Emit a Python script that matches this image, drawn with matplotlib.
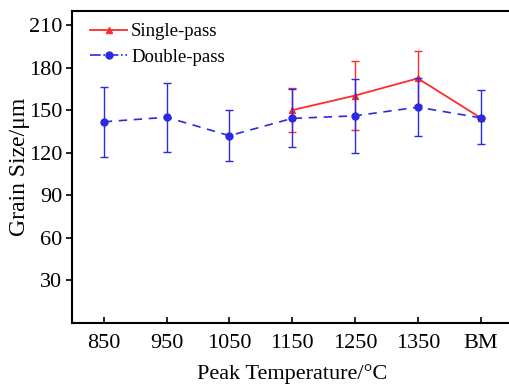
import numpy as np
import matplotlib.pyplot as plt
from matplotlib.lines import Line2D

plt.rcParams['font.family'] = ['Liberation Serif', 'DejaVu Serif']

# categories
temps = ['850', '950', '1050', '1150', '1250', '1350', 'BM']

# Double-pass (all categories)
double_vals = [141.8, 145.0, 132.0, 144.2, 146.0, 152.1, 144.6]
double_err_lo = [24.5, 24.2, 18.2, 20.4, 26.0, 20.3, 18.6]
double_err_hi = [24.2, 24.4, 17.8, 21.0, 26.0, 20.3, 19.4]

# Single-pass (1150 .. BM)
single_idx = [3, 4, 5, 6]
single_vals = [150.0, 160.3, 172.4, 144.6]
single_err = [15.5, 24.5, 19.0, 0.0]

x = np.arange(len(temps))

fig = plt.figure(figsize=(5.1, 3.89), dpi=100)
ax = fig.add_axes([0.142, 0.170, 0.862, 0.802])

red = '#ff2a2a'
blue = '#2a2ae0'

ax.errorbar(x[single_idx], single_vals, yerr=single_err, color=red, lw=1.3,
            marker='^', ms=5, capsize=3, elinewidth=1.0, capthick=1.0,
            zorder=3)
ax.errorbar(x, double_vals, yerr=[double_err_lo, double_err_hi], color=blue,
            lw=1.2, ls=(0, (5, 4)), marker='o', ms=5, capsize=3,
            elinewidth=1.0, capthick=1.0, zorder=4)

ax.set_xlim(-0.5, 6.5)
ax.set_ylim(0, 220)
ax.set_yticks(np.arange(30, 211, 30))
ax.set_xticks(x)
ax.set_xticklabels(temps)
ax.tick_params(axis='x', direction='in', length=4, width=1.2, labelsize=16, pad=8)
ax.tick_params(axis='y', direction='out', length=4, width=1.2, labelsize=16)
for s in ax.spines.values():
    s.set_linewidth(1.5)

ax.set_xlabel('Peak Temperature/°C', fontsize=16, labelpad=8)
ax.set_ylabel('Grain Size/μm', fontsize=17, labelpad=-1)

handles = [
    Line2D([], [], color=red, lw=1.3, marker='^', ms=5),
    Line2D([], [], color=blue, lw=1.2, ls='-.', marker='o', ms=5),
]
ax.legend(handles, ['Single-pass', 'Double-pass'], loc='upper left',
          bbox_to_anchor=(0.012, 1.0),
          frameon=False, fontsize=13.5, handlelength=2.0, handletextpad=0.2,
          borderaxespad=0.25, labelspacing=0.45)

fig.savefig('out.png', dpi=100)
